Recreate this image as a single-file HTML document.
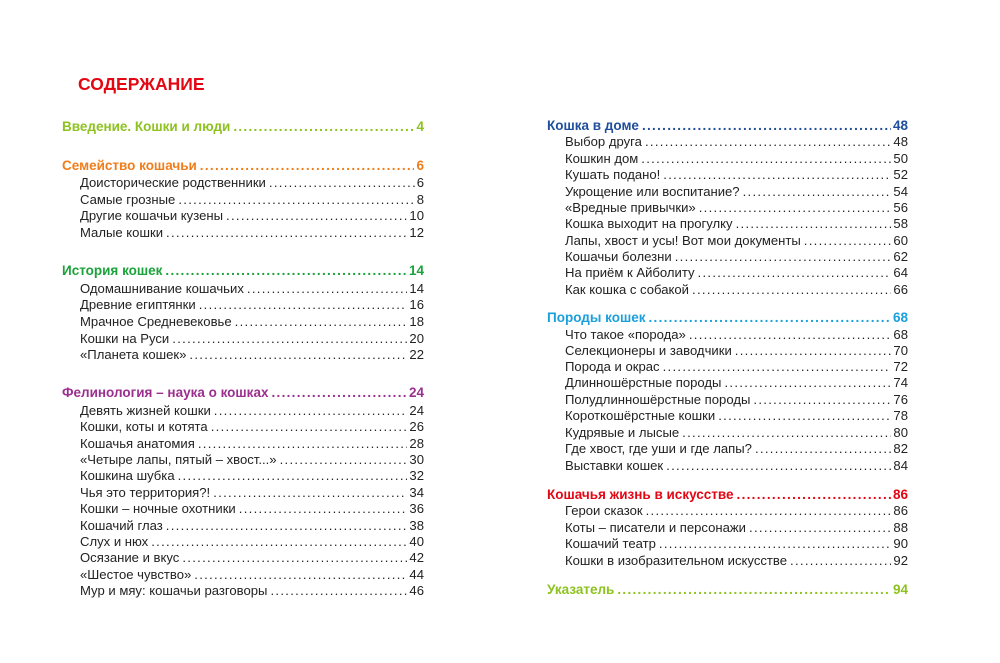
<!DOCTYPE html>
<html><head><meta charset="utf-8"><style>
body{margin:0;width:1000px;height:663px;background:#fff;position:relative;font-family:"Liberation Sans",sans-serif;overflow:hidden}
.r{position:absolute;height:16px;line-height:16px;font-size:13.1px;color:#222;display:flex;white-space:nowrap}
.r .t{flex:none;padding-right:3px}
.r .d{flex:1;overflow:hidden;letter-spacing:1.3px}
.r .p{flex:none;padding-left:2px}
.h{font-weight:bold;font-size:13.5px}
.L{left:62px;width:362px}.Ls{left:80px;width:344px}
.R{left:547px;width:361px}.Rs{left:565px;width:343px}
h1{position:absolute;left:78px;top:74px;margin:0;font-size:17.5px;color:#e30613;font-weight:bold}
</style></head><body>
<h1>СОДЕРЖАНИЕ</h1>
<div id="c"></div>
<script>
const D='.'.repeat(200);
const rows=[
['L',127,'#8dc21f','Введение. Кошки и люди','4',1],
['L',166,'#f07d1a','Семейство кошачьи','6',1],
['Ls',183,'','Доисторические родственники','6'],
['Ls',200,'','Самые грозные','8'],
['Ls',216,'','Другие кошачьи кузены','10'],
['Ls',233,'','Малые кошки','12'],
['L',271,'#1aa33a','История кошек','14',1],
['Ls',289,'','Одомашнивание кошачьих','14'],
['Ls',305,'','Древние египтянки','16'],
['Ls',322,'','Мрачное Средневековье','18'],
['Ls',339,'','Кошки на Руси','20'],
['Ls',355,'','«Планета кошек»','22'],
['L',393,'#9b2f8e','Фелинология – наука о кошках','24',1],
['Ls',411,'','Девять жизней кошки','24'],
['Ls',427,'','Кошки, коты и котята','26'],
['Ls',444,'','Кошачья анатомия','28'],
['Ls',460,'','«Четыре лапы, пятый – хвост...»','30'],
['Ls',476,'','Кошкина шубка','32'],
['Ls',493,'','Чья это территория?!','34'],
['Ls',509,'','Кошки – ночные охотники','36'],
['Ls',526,'','Кошачий глаз','38'],
['Ls',542,'','Слух и нюх','40'],
['Ls',558,'','Осязание и вкус','42'],
['Ls',575,'','«Шестое чувство»','44'],
['Ls',591,'','Мур и мяу: кошачьи разговоры','46'],
['R',126,'#1f4e9c','Кошка в доме','48',1],
['Rs',142,'','Выбор друга','48'],
['Rs',159,'','Кошкин дом','50'],
['Rs',175,'','Кушать подано!','52'],
['Rs',192,'','Укрощение или воспитание?','54'],
['Rs',208,'','«Вредные привычки»','56'],
['Rs',224,'','Кошка выходит на прогулку','58'],
['Rs',241,'','Лапы, хвост и усы! Вот мои документы','60'],
['Rs',257,'','Кошачьи болезни','62'],
['Rs',273,'','На приём к Айболиту','64'],
['Rs',290,'','Как кошка с собакой','66'],
['R',318,'#1aa0dc','Породы кошек','68',1],
['Rs',335,'','Что такое «порода»','68'],
['Rs',351,'','Селекционеры и заводчики','70'],
['Rs',367,'','Порода и окрас','72'],
['Rs',383,'','Длинношёрстные породы','74'],
['Rs',400,'','Полудлинношёрстные породы','76'],
['Rs',416,'','Короткошёрстные кошки','78'],
['Rs',433,'','Кудрявые и лысые','80'],
['Rs',449,'','Где хвост, где уши и где лапы?','82'],
['Rs',466,'','Выставки кошек','84'],
['R',495,'#e30613','Кошачья жизнь в искусстве','86',1],
['Rs',511,'','Герои сказок','86'],
['Rs',528,'','Коты – писатели и персонажи','88'],
['Rs',544,'','Кошачий театр','90'],
['Rs',561,'','Кошки в изобразительном искусстве','92'],
['R',590,'#8dc21f','Указатель','94',1]];
let h='';
for(const r of rows){h+=`<div class="r ${r[0]}${r[5]?' h':''}" style="top:${r[1]-8}px;${r[2]?'color:'+r[2]:''}"><span class="t">${r[3]}</span><span class="d">${D}</span><span class="p">${r[4]}</span></div>`;}
document.getElementById('c').innerHTML=h;
</script>
</body></html>
